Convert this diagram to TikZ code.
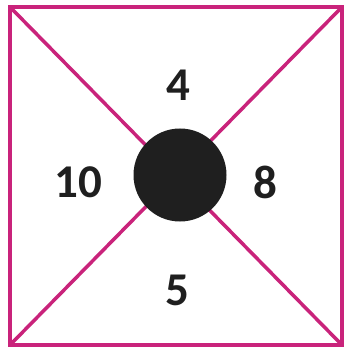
\documentclass[tikz,border=0pt]{standalone}
\usepackage{fontspec}
\setmainfont{Carlito}
\usepackage{tikz}
\usetikzlibrary{positioning}
\definecolor{mRubine}{HTML}{C9237B}

\begin{document}
\begin{tikzpicture}[x=1pt, y=-1pt,
        edge/.style={mRubine, line width=3.5pt},
        num/.style={font=\fontsize{47}{47}\selectfont\bfseries, text=black!88, inner sep=0pt},
        dot/.style={circle, fill=black!88, minimum size=93pt, inner sep=0pt},
    ]
        \useasboundingbox (0,0) rectangle (347,352);
        \coordinate (tl) at (10,7);
        \coordinate (tr) at (342,7);
        \coordinate (br) at (342,345);
        \coordinate (bl) at (10,345);

        \draw[edge] (tl) -- (br);
        \draw[edge] (tr) -- (bl);
        \draw[edge] (tl) -- (tr) -- (br) -- (bl) -- cycle;

        \node[dot] (c) at (180,175) {};
        \node[num] (n4) at (178,85) {4};
        \node[num] (n10) at (78,182) {10};
        \node[num] (n8) at (265,182) {8};
        \node[num] (n5) at (177,290) {5};
    \end{tikzpicture}
\end{document}
